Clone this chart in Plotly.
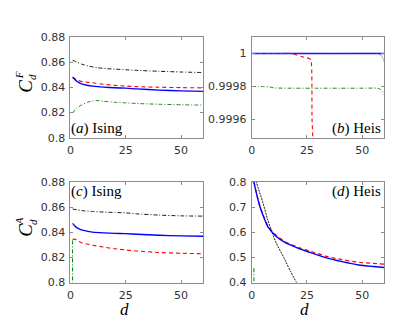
import plotly.graph_objects as go

W, H = 415, 319

# ---- data ----
# (a) Ising, C_d^F
a_blk_d = [1, 2, 3, 5, 8, 12, 16, 20, 25, 30, 40, 50, 60]
a_blk_v = [0.8615, 0.8608, 0.8600, 0.8585, 0.8570, 0.8557, 0.8549, 0.8545, 0.8540, 0.8535, 0.8528, 0.8522, 0.8518]
a_red_d = [1, 2, 3, 5, 8, 10, 15, 20, 25, 30, 40, 50, 60]
a_red_v = [0.8480, 0.8468, 0.8458, 0.8447, 0.8440, 0.8437, 0.8425, 0.8416, 0.8411, 0.8406, 0.8401, 0.8398, 0.8396]
a_blu_d = [1, 2, 3, 5, 8, 10, 15, 20, 25, 30, 40, 50, 60]
a_blu_v = [0.8480, 0.8462, 0.8447, 0.8428, 0.8415, 0.8410, 0.8402, 0.8397, 0.8394, 0.8388, 0.8378, 0.8372, 0.8368]
a_grn_d = [1, 2, 3, 5, 8, 10, 12, 15, 20, 25, 30, 40, 50, 60]
a_grn_v = [0.8196, 0.8220, 0.8238, 0.8260, 0.8283, 0.8292, 0.8295, 0.8290, 0.8282, 0.8277, 0.8272, 0.8266, 0.8262, 0.8259]

# (b) Heis, C_d^F
b_blu_d = [0, 60]
b_blu_v = [1.0, 1.0]
b_blk_d = [0, 20, 40, 57, 58, 59, 60]
b_blk_v = [1.0, 1.0, 1.0, 1.0, 0.999995, 0.99998, 0.99995]
b_red_d = [0, 10, 17.8, 20, 23, 26, 26.8, 27.3, 28]
b_red_v = [1.0, 1.0, 1.0, 0.999993, 0.99998, 0.99997, 0.99996, 0.99960, 0.99940]
b_grn_d = [0, 5, 8, 10, 20, 30, 40, 50, 57, 58, 59, 60]
b_grn_v = [0.99980, 0.99980, 0.999798, 0.999792, 0.99979, 0.99979, 0.99979, 0.99979, 0.99979, 0.999785, 0.99977, 0.99975]

# (c) Ising, C_d^A
c_blk_d = [1, 3, 5, 10, 15, 20, 25, 30, 40, 50, 60]
c_blk_v = [0.8584, 0.8578, 0.8572, 0.8565, 0.8560, 0.8557, 0.8554, 0.8546, 0.8536, 0.8530, 0.8528]
c_blu_d = [1, 2, 3, 5, 8, 10, 15, 20, 25, 30, 40, 50, 60]
c_blu_v = [0.8470, 0.8450, 0.8435, 0.8419, 0.8407, 0.8401, 0.8395, 0.8391, 0.8389, 0.8384, 0.8376, 0.8371, 0.8368]
c_red_d = [1, 2, 3, 5, 8, 10, 15, 20, 25, 30, 40, 50, 60]
c_red_v = [0.8343, 0.8345, 0.8335, 0.8317, 0.8304, 0.8297, 0.8282, 0.8269, 0.8259, 0.8251, 0.8239, 0.8233, 0.8229]
c_grn_d = [0.9, 1.2]
c_grn_v = [0.8335, 0.70]

# (d) Heis, C_d^A
d_blu_d = [1, 2, 3.6, 5, 7.3, 11, 15, 18.5, 22, 26, 30, 33.4, 40.9, 48.4, 55, 60]
d_blu_v = [0.800, 0.760, 0.705, 0.670, 0.622, 0.584, 0.560, 0.546, 0.533, 0.521, 0.509, 0.499, 0.483, 0.470, 0.464, 0.460]
d_red_d = [1, 2, 3.6, 5, 7.3, 11, 15, 18.5, 22, 26, 30, 33.4, 40.9, 48.4, 55, 60]
d_red_v = [0.800, 0.762, 0.708, 0.673, 0.626, 0.588, 0.563, 0.549, 0.537, 0.526, 0.515, 0.505, 0.491, 0.481, 0.476, 0.473]
d_blk_d = [1, 2.1, 5.1, 7.3, 11, 14.8, 17.5, 20.3, 22]
d_blk_v = [0.85, 0.800, 0.717, 0.648, 0.559, 0.495, 0.445, 0.400, 0.37]
d_grn_d = [1, 1.1]
d_grn_v = [0.457, 0.30]

x_ticks = [0, 25, 50]
ising_yticks = [0.8, 0.82, 0.84, 0.86, 0.88]
ising_yticktext = ["0.8", "0.82", "0.84", "0.86", "0.88"]
heisF_yticks = [0.9996, 0.9998, 1.0]
heisF_yticktext = ["0.9996", "0.9998", "1"]
heisA_yticks = [0.4, 0.5, 0.6, 0.7, 0.8]
heisA_yticktext = ["0.4", "0.5", "0.6", "0.7", "0.8"]

BLUE = "#0000ff"
RED = "#ff0000"
BLACK = "#000000"
GREEN = "#008000"
DD = "4px,2px,1px,2px"

fig = go.Figure()


def add(xs, ys, color, dash, width, xa, ya):
    fig.add_trace(go.Scatter(x=xs, y=ys, mode="lines", xaxis=xa, yaxis=ya,
                             line=dict(color=color, dash=dash, width=width, shape="spline", smoothing=0.6),
                             showlegend=False, hoverinfo="skip"))

# panel a
add(a_blk_d, a_blk_v, BLACK, DD, 0.9, "x", "y")
add(a_grn_d, a_grn_v, GREEN, DD, 0.9, "x", "y")
add(a_red_d, a_red_v, RED, "4px,3px", 1.1, "x", "y")
add(a_blu_d, a_blu_v, BLUE, "solid", 1.4, "x", "y")
# panel b
add(b_grn_d, b_grn_v, GREEN, DD, 0.9, "x2", "y2")
add(b_blu_d, b_blu_v, BLUE, "solid", 1.4, "x2", "y2")
add(b_blk_d, b_blk_v, "#555555", "1px,1px", 1.0, "x2", "y2")
add(b_red_d, b_red_v, RED, "4px,3px", 1.1, "x2", "y2")
# panel c
add(c_blk_d, c_blk_v, BLACK, DD, 0.9, "x3", "y3")
add(c_red_d, c_red_v, RED, "4px,3px", 1.1, "x3", "y3")
add(c_blu_d, c_blu_v, BLUE, "solid", 1.4, "x3", "y3")
add(c_grn_d, c_grn_v, GREEN, DD, 1.0, "x3", "y3")
# panel d
add(d_blk_d, d_blk_v, BLACK, "2px,1px", 0.9, "x4", "y4")
add(d_red_d, d_red_v, RED, "4px,3px", 1.2, "x4", "y4")
add(d_blu_d, d_blu_v, BLUE, "solid", 1.4, "x4", "y4")
add(d_grn_d, d_grn_v, GREEN, DD, 1.0, "x4", "y4")

TICKFONT = dict(family="DejaVu Sans", size=11, color="#333333")


def xax(domain, anchor):
    return dict(domain=domain, anchor=anchor, range=[0, 60], tickvals=x_ticks,
                showline=True, linecolor="#8c8c8c", linewidth=1, mirror="ticks",
                ticks="inside", ticklen=3, tickcolor="#8c8c8c", showgrid=False,
                zeroline=False, tickfont=TICKFONT, ticklabelstandoff=2)


def yax(domain, anchor, rng, tv, tt):
    return dict(domain=domain, anchor=anchor, range=rng, tickvals=tv, ticktext=tt,
                showline=True, linecolor="#8c8c8c", linewidth=1, mirror="ticks",
                ticks="inside", ticklen=3, tickcolor="#8c8c8c", showgrid=False,
                zeroline=False, tickfont=TICKFONT, ticklabelstandoff=2)


xl = [59 / W, 193 / W]
xr = [242 / W, 376 / W]
yt = [1 - 129 / H, 1 - 24 / H]
yb = [1 - 280 / H, 1 - 175 / H]

fig.update_layout(
    width=W, height=H, margin=dict(l=0, r=0, t=0, b=0),
    paper_bgcolor="white", plot_bgcolor="white",
    xaxis=xax(xl, "y"), yaxis=yax(yt, "x", [0.8, 0.88], ising_yticks, ising_yticktext),
    xaxis2=xax(xr, "y2"), yaxis2=yax(yt, "x2", [0.99949, 1.0001], heisF_yticks, heisF_yticktext),
    xaxis3=xax(xl, "y3"), yaxis3=yax(yb, "x3", [0.8, 0.88], ising_yticks, ising_yticktext),
    xaxis4=xax(xr, "y4"), yaxis4=yax(yb, "x4", [0.4, 0.8], heisA_yticks, heisA_yticktext),
)

SERIF = "Liberation Serif"


def ann(px, py, text, size, angle=0, xanchor="center", yanchor="middle"):
    fig.add_annotation(x=px / W, y=1 - py / H, xref="paper", yref="paper", text=text,
                       showarrow=False, textangle=angle, xanchor=xanchor, yanchor=yanchor,
                       font=dict(family=SERIF, size=size, color="black"), borderpad=0)

# y titles (rotated C with stacked super/subscripts)
ann(14, 75, "<i>C</i>", 19, -90)
ann(7, 64, "<i>F</i>", 11, -90)
ann(21, 66, "<i>d</i>", 11, -90)
ann(14, 225, "<i>C</i>", 19, -90)
ann(7, 216, "<i>A</i>", 11, -90)
ann(21, 217, "<i>d</i>", 11, -90)

# x titles
ann(114, 297, "<i>d</i>", 17, yanchor="top")
ann(295, 297, "<i>d</i>", 17, yanchor="top")

# panel labels
ann(59, 129, "(<i>a</i>) Ising", 15, xanchor="left", yanchor="bottom")
ann(374, 129, "(<i>b</i>) Heis", 15, xanchor="right", yanchor="bottom")
ann(59, 175, "(<i>c</i>) Ising", 15, xanchor="left", yanchor="top")
ann(374, 175, "(<i>d</i>) Heis", 15, xanchor="right", yanchor="top")

fig.write_html("out.html")
